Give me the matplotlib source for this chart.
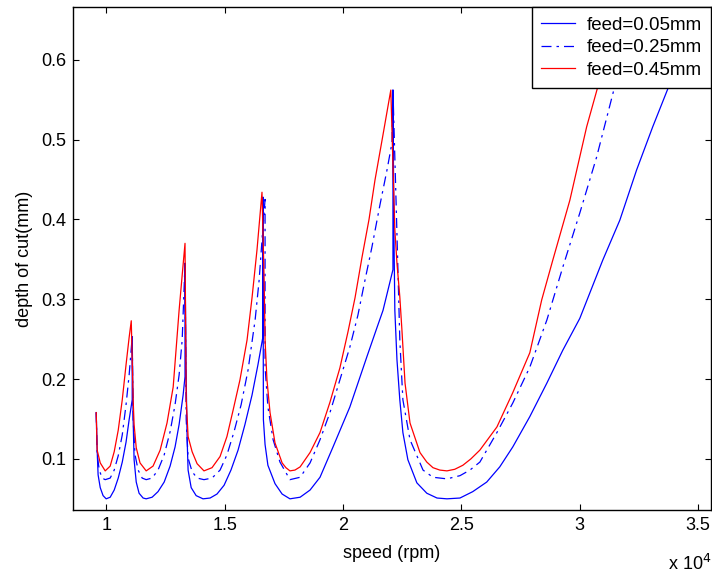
import matplotlib
matplotlib.use('Agg')
import matplotlib.pyplot as plt

plt.rcParams['font.family'] = ['Liberation Sans', 'DejaVu Sans']

# stability lobes, speed in rpm, depth in mm
# feed = 0.05 mm
speed_f005 = [9580, 9620, 9660, 9750, 9870, 10000, 10170, 10340, 10510, 10680, 10840, 10970, 11100, 11100,
              11140, 11180, 11270, 11390, 11560, 11690, 11940, 12190, 12450, 12700, 12910, 13080, 13250, 13330, 13330,
              13380, 13420, 13460, 13590, 13800, 14090, 14390, 14680, 14980, 15270, 15570, 15860, 16160, 16410, 16620, 16620,
              16640, 16710, 16830, 17130, 17430, 17760, 18190, 18610, 19030, 19580, 20290, 21010, 21430, 21690, 22110, 22110,
              22150, 22190, 22280, 22400, 22530, 22740, 23120, 23540, 23970, 24390, 24940, 25480, 26070, 26620, 27170,
              27890, 28610, 29280, 30000, 30970, 31690, 32400, 33080, 33750, 34640, 35060]
depth_f005 = [0.158, 0.111, 0.080, 0.064, 0.054, 0.050, 0.052, 0.061, 0.076, 0.096, 0.121, 0.149, 0.174, 0.253,
              0.149, 0.099, 0.071, 0.057, 0.051, 0.050, 0.052, 0.059, 0.071, 0.091, 0.115, 0.143, 0.180, 0.203, 0.345,
              0.199, 0.124, 0.086, 0.064, 0.054, 0.050, 0.051, 0.056, 0.067, 0.086, 0.111, 0.143, 0.180, 0.218, 0.253, 0.428,
              0.149, 0.118, 0.092, 0.069, 0.056, 0.050, 0.052, 0.061, 0.077, 0.115, 0.165, 0.228, 0.264, 0.286, 0.337, 0.562,
              0.387, 0.286, 0.224, 0.174, 0.133, 0.099, 0.070, 0.057, 0.051, 0.050, 0.051, 0.059, 0.071, 0.090, 0.115,
              0.153, 0.195, 0.236, 0.276, 0.349, 0.399, 0.462, 0.516, 0.566, 0.649, 0.687]

# feed = 0.25 mm
speed_f025 = [9580, 9620, 9710, 9830, 9960, 10170, 10340, 10510, 10680, 10840, 10970, 11100,
              11140, 11220, 11350, 11520, 11690, 11940, 12190, 12450, 12700, 12910, 13080, 13210, 13330,
              13380, 13460, 13630, 13840, 14130, 14470, 14810, 15100, 15400, 15700, 15990, 16290, 16460, 16580, 16710,
              16710, 16830, 17050, 17340, 17760, 18190, 18610, 19030, 19450, 19870, 20290, 20630, 20930, 21220, 21560,
              21860, 22070, 22110,
              22240, 22320, 22400, 22530, 22830, 23380, 23800, 24390, 24940, 25360, 25780, 26500, 27170, 27890, 28610,
              29280, 30000, 30710, 31470, 32110, 32530]
depth_f025 = [0.158, 0.105, 0.086, 0.076, 0.074, 0.076, 0.086, 0.104, 0.130, 0.168, 0.205, 0.253,
              0.149, 0.105, 0.086, 0.076, 0.074, 0.076, 0.086, 0.105, 0.134, 0.168, 0.205, 0.249, 0.345,
              0.149, 0.101, 0.084, 0.076, 0.074, 0.076, 0.086, 0.105, 0.134, 0.168, 0.211, 0.274, 0.324, 0.374, 0.425,
              0.215, 0.165, 0.124, 0.096, 0.074, 0.077, 0.095, 0.124, 0.158, 0.199, 0.240, 0.280, 0.324, 0.365, 0.418,
              0.462, 0.496, 0.562,
              0.424, 0.337, 0.249, 0.174, 0.124, 0.086, 0.077, 0.075, 0.079, 0.086, 0.096, 0.133, 0.170, 0.215, 0.274,
              0.340, 0.408, 0.478, 0.566, 0.631, 0.674]

# feed = 0.45 mm
speed_f045 = [9580, 9620, 9750, 9960, 10170, 10340, 10510, 10680, 10840, 10970, 11060,
              11140, 11180, 11270, 11430, 11690, 11980, 12280, 12570, 12830, 12950, 13080, 13210, 13330,
              13380, 13460, 13630, 13840, 14130, 14470, 14810, 15100, 15360, 15650, 15950, 16160, 16370, 16580,
              16670, 16710, 16790, 16920, 17130, 17430, 17590, 17760, 17970, 18190, 18610, 19030, 19450, 19870, 20210,
              20510, 20800, 21100, 21350, 21690, 22020,
              22190, 22280, 22400, 22490, 22620, 22830, 23250, 23540, 23800, 24090, 24390, 24720, 25060, 25400, 25780,
              26500, 27170, 27890, 28390, 28860, 29580, 30290, 30760, 31690, 32110]
depth_f045 = [0.158, 0.111, 0.095, 0.085, 0.091, 0.109, 0.136, 0.174, 0.218, 0.252, 0.273,
              0.174, 0.143, 0.114, 0.095, 0.085, 0.091, 0.111, 0.145, 0.190, 0.236, 0.286, 0.330, 0.370,
              0.174, 0.128, 0.109, 0.094, 0.085, 0.089, 0.103, 0.128, 0.161, 0.199, 0.249, 0.302, 0.362, 0.434,
              0.324, 0.249, 0.199, 0.158, 0.120, 0.095, 0.089, 0.085, 0.086, 0.090, 0.108, 0.133, 0.171, 0.214, 0.259,
              0.302, 0.352, 0.400, 0.449, 0.506, 0.562,
              0.387, 0.345, 0.303, 0.261, 0.195, 0.145, 0.108, 0.096, 0.089, 0.086, 0.085, 0.087, 0.092, 0.100, 0.111,
              0.140, 0.183, 0.233, 0.299, 0.349, 0.424, 0.516, 0.566, 0.666, 0.712]

x_ticks = [10000, 15000, 20000, 25000, 30000, 35000]
x_tick_labels = ['1', '1.5', '2', '2.5', '3', '3.5']
y_ticks = [0.1, 0.2, 0.3, 0.4, 0.5, 0.6]
y_tick_labels = ['0.1', '0.2', '0.3', '0.4', '0.5', '0.6']

fig = plt.figure(figsize=(7.12, 5.74), dpi=100)
ax = fig.add_axes([73 / 712, 64 / 574, 638 / 712, 503 / 574])

dashdot = (0, (8, 4, 2, 4))
ax.plot(speed_f005, depth_f005, color='b', lw=0.9, label='feed=0.05mm')
ax.plot(speed_f025, depth_f025, color='b', lw=0.9, linestyle=dashdot, label='feed=0.25mm')
ax.plot(speed_f045, depth_f045, color='r', lw=0.9, label='feed=0.45mm')

ax.set_xlim(8600, 35540)
ax.set_ylim(0.036, 0.666)
ax.set_xticks(x_ticks)
ax.set_xticklabels(x_tick_labels)
ax.set_yticks(y_ticks)
ax.set_yticklabels(y_tick_labels)
ax.tick_params(direction='in', top=True, right=True, length=4, labelsize=13, pad=5)
for sp in ax.spines.values():
    sp.set_linewidth(1.0)

ax.set_xlabel('speed (rpm)', fontsize=13, labelpad=8)
ax.set_ylabel('depth of cut(mm)', fontsize=13, labelpad=6)
fig.text(668 / 712, 1 - 570 / 574, r'x 10$^4$', fontsize=13)

leg = ax.legend(loc='upper right', borderaxespad=0, fancybox=False, edgecolor='k', framealpha=1,
                fontsize=13.5, handlelength=1.8, handletextpad=0.6, labelspacing=0.3, borderpad=0.5)
leg.get_frame().set_linewidth(1.0)

fig.savefig('out.png', dpi=100)
